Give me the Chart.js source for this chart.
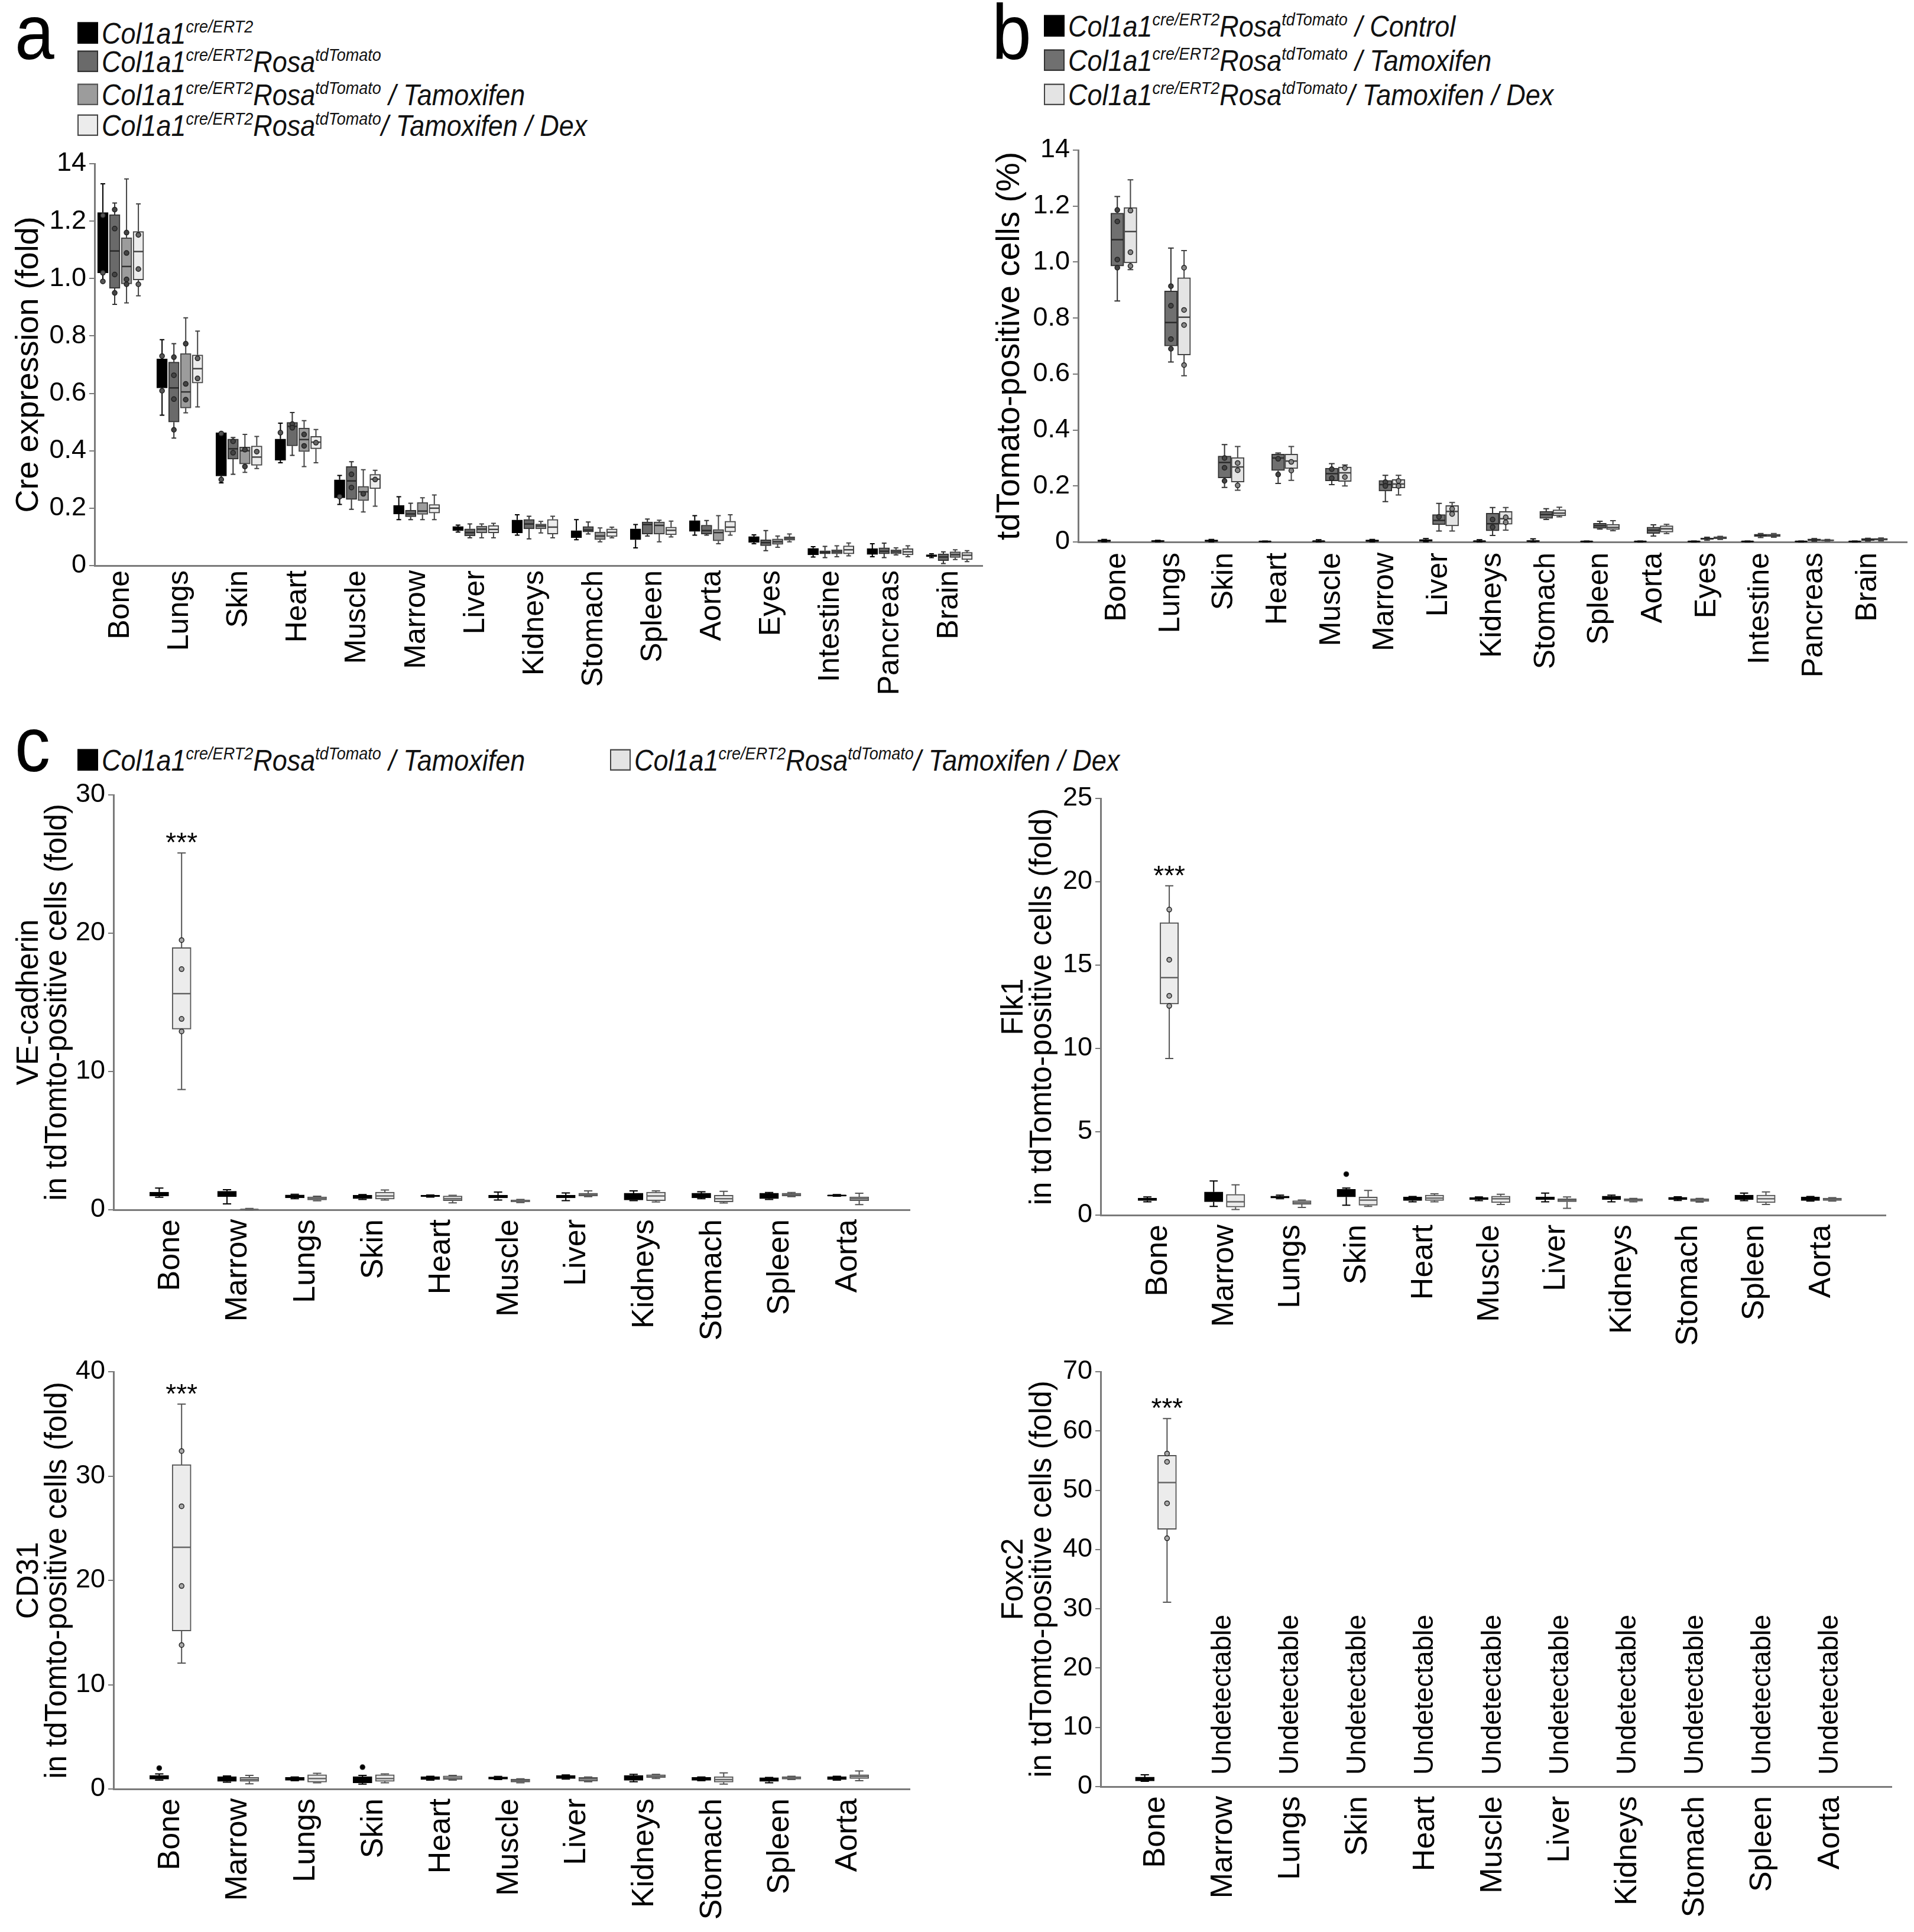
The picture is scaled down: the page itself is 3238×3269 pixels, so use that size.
<!DOCTYPE html>
<html>
<head>
<meta charset="utf-8">
<script src="https://cdn.jsdelivr.net/npm/chart.js@4.4.1/dist/chart.umd.min.js"></script>
<style>
  body { margin: 0; background: #fff; }
  #fig { position: relative; width: 3238px; height: 3269px; background: #fff; overflow: hidden;
         font-family: 'Liberation Sans', Arial, sans-serif; }
  canvas { position: absolute; }
  .letter { position: absolute; font-size: 120px; line-height: 1; color: #000;
            transform: scaleY(1.1); transform-origin: 0 102px; }
  .leg { position: absolute; display: flex; align-items: baseline; font-style: italic;
         font-size: 45px; line-height: 50px; white-space: nowrap; color: #111;
         transform: scaleY(1.1); transform-origin: 0 41px; }
  .leg .sw { display: inline-block; width: 31px; height: 29px; border: 2px solid #333; margin-right: 6px; flex: none; }
  .leg sup { font-size: 0.6em; vertical-align: 0.62em; line-height: 0; }
</style>
</head>
<body>
<div id="fig">
  <div class="letter" style="left:25px;top:-2px">a</div>
  <div class="letter" style="left:1678px;top:-2px">b</div>
  <div class="letter" style="left:25px;top:1203px">c</div>

  <div class="leg" style="left:131px;top:34px"><span class="sw" style="background:#000;border-color:#000"></span><span>Col1a1<sup>cre/ERT2</sup></span></div>
  <div class="leg" style="left:131px;top:82px"><span class="sw" style="background:#6a6a6a"></span><span>Col1a1<sup>cre/ERT2</sup>Rosa<sup>tdTomato</sup></span></div>
  <div class="leg" style="left:131px;top:138px"><span class="sw" style="background:#9c9c9c;border-color:#555"></span><span>Col1a1<sup>cre/ERT2</sup>Rosa<sup>tdTomato</sup> / Tamoxifen</span></div>
  <div class="leg" style="left:131px;top:190px"><span class="sw" style="background:#ececec;border-color:#444"></span><span>Col1a1<sup>cre/ERT2</sup>Rosa<sup>tdTomato</sup>/ Tamoxifen / Dex</span></div>

  <div class="leg" style="left:1766px;top:22px"><span class="sw" style="background:#000;border-color:#000"></span><span>Col1a1<sup>cre/ERT2</sup>Rosa<sup>tdTomato</sup> / Control</span></div>
  <div class="leg" style="left:1766px;top:80px"><span class="sw" style="background:#707070"></span><span>Col1a1<sup>cre/ERT2</sup>Rosa<sup>tdTomato</sup> / Tamoxifen</span></div>
  <div class="leg" style="left:1766px;top:138px"><span class="sw" style="background:#e4e4e4;border-color:#444"></span><span>Col1a1<sup>cre/ERT2</sup>Rosa<sup>tdTomato</sup>/ Tamoxifen / Dex</span></div>

  <div class="leg" style="left:131px;top:1264px"><span class="sw" style="background:#000;border-color:#000"></span><span>Col1a1<sup>cre/ERT2</sup>Rosa<sup>tdTomato</sup> / Tamoxifen</span></div>
  <div class="leg" style="left:1032px;top:1264px"><span class="sw" style="background:#e4e4e4;border-color:#444"></span><span>Col1a1<sup>cre/ERT2</sup>Rosa<sup>tdTomato</sup>/ Tamoxifen / Dex</span></div>

  <canvas id="chartA"></canvas>
  <canvas id="chartB"></canvas>
  <canvas id="chartVE"></canvas>
  <canvas id="chartFlk"></canvas>
  <canvas id="chartCD31"></canvas>
  <canvas id="chartFoxc2"></canvas>
</div>

<script>
'use strict';

// ---- data: every box is [min, q1, median, q3, max] ----
const catsAB = ['Bone', 'Lungs', 'Skin', 'Heart', 'Muscle', 'Marrow', 'Liver', 'Kidneys',
                'Stomach', 'Spleen', 'Aorta', 'Eyes', 'Intestine', 'Pancreas', 'Brain'];
const catsC = ['Bone', 'Marrow', 'Lungs', 'Skin', 'Heart', 'Muscle', 'Liver', 'Kidneys',
               'Stomach', 'Spleen', 'Aorta'];

const ticksA = [0, 0.2, 0.4, 0.6, 0.8, 1.0, 1.2, 1.4];
const tickLabelsA = ['0', '0.2', '0.4', '0.6', '0.8', '1.0', '1.2', '14'];
const ticksVE = [0, 10, 20, 30];
const ticksFlk = [0, 5, 10, 15, 20, 25];
const ticksCD31 = [0, 10, 20, 30, 40];
const ticksFoxc2 = [0, 10, 20, 30, 40, 50, 60, 70];

// panel a : Cre expression (fold)
const aCre = [
  [0.99, 1.02, 1.12, 1.23, 1.33], [0.524, 0.619, 0.66, 0.72, 0.787], [0.288, 0.312, 0.39, 0.463, 0.465],
  [0.358, 0.367, 0.40, 0.441, 0.496], [0.213, 0.236, 0.27, 0.299, 0.314], [0.16, 0.18, 0.195, 0.21, 0.24],
  [0.117, 0.122, 0.13, 0.136, 0.141], [0.106, 0.114, 0.14, 0.159, 0.177], [0.09, 0.097, 0.11, 0.122, 0.16],
  [0.062, 0.09, 0.11, 0.128, 0.143], [0.106, 0.119, 0.14, 0.157, 0.174], [0.076, 0.081, 0.09, 0.101, 0.107],
  [0.03, 0.037, 0.048, 0.06, 0.066], [0.031, 0.039, 0.05, 0.059, 0.076], [0.028, 0.031, 0.034, 0.038, 0.041]];
const aRosa = [
  [0.91, 0.966, 1.096, 1.223, 1.263], [0.444, 0.50, 0.619, 0.709, 0.773], [0.318, 0.371, 0.407, 0.441, 0.446],
  [0.384, 0.417, 0.485, 0.499, 0.533], [0.196, 0.23, 0.295, 0.345, 0.362], [0.16, 0.17, 0.18, 0.193, 0.217],
  [0.097, 0.103, 0.115, 0.128, 0.145], [0.093, 0.128, 0.145, 0.161, 0.172], [0.11, 0.117, 0.124, 0.136, 0.152],
  [0.103, 0.11, 0.143, 0.152, 0.162], [0.106, 0.11, 0.122, 0.141, 0.157], [0.052, 0.069, 0.08, 0.09, 0.122],
  [0.028, 0.041, 0.046, 0.052, 0.067], [0.028, 0.041, 0.05, 0.062, 0.078], [0.007, 0.017, 0.03, 0.041, 0.048]];
const aTam = [
  [0.915, 0.981, 1.042, 1.142, 1.347], [0.532, 0.549, 0.605, 0.739, 0.863], [0.325, 0.354, 0.40, 0.413, 0.457],
  [0.345, 0.397, 0.439, 0.479, 0.505], [0.187, 0.226, 0.257, 0.276, 0.334], [0.16, 0.178, 0.19, 0.22, 0.236],
  [0.097, 0.114, 0.127, 0.138, 0.145], [0.114, 0.128, 0.138, 0.145, 0.154], [0.083, 0.09, 0.103, 0.117, 0.131],
  [0.083, 0.11, 0.14, 0.152, 0.158], [0.076, 0.086, 0.115, 0.126, 0.174], [0.064, 0.074, 0.083, 0.093, 0.103],
  [0.031, 0.041, 0.048, 0.055, 0.069], [0.037, 0.041, 0.048, 0.055, 0.062], [0.021, 0.028, 0.038, 0.048, 0.055]];
const aDex = [
  [0.94, 0.995, 1.094, 1.164, 1.26], [0.553, 0.636, 0.686, 0.734, 0.817], [0.338, 0.349, 0.378, 0.417, 0.45],
  [0.358, 0.407, 0.43, 0.45, 0.474], [0.207, 0.268, 0.301, 0.318, 0.332], [0.16, 0.183, 0.2, 0.213, 0.246],
  [0.097, 0.114, 0.126, 0.14, 0.147], [0.097, 0.11, 0.134, 0.161, 0.172], [0.097, 0.101, 0.116, 0.128, 0.134],
  [0.1, 0.107, 0.123, 0.134, 0.155], [0.106, 0.117, 0.134, 0.155, 0.177], [0.083, 0.088, 0.094, 0.1, 0.11],
  [0.034, 0.041, 0.055, 0.069, 0.079], [0.031, 0.037, 0.048, 0.059, 0.069], [0.014, 0.021, 0.036, 0.046, 0.052]];
const aCrePts = [[1.22, 1.02, 0.99], [0.73, 0.609], [0.46, 0.30], [0.463], [0.24]];
const aRosaPts = [[1.24, 1.174, 1.014, 0.95], [0.726, 0.663, 0.58, 0.473], [0.433, 0.393], [0.493, 0.48], [0.318, 0.272]];
const aTamPts = [[1.16, 1.089, 0.997, 0.98], [0.773, 0.633, 0.578], [0.404, 0.345], [0.457, 0.417], [0.25]];
const aDexPts = [[1.152, 1.033, 0.98], [0.722, 0.652], [0.397], [0.428], [0.30]];

// panel b : tdTomato-positive cells (%)
const bControl = [
  [0.001, 0.002, 0.004, 0.007, 0.009], [0.001, 0.002, 0.003, 0.005, 0.006], [0.001, 0.002, 0.004, 0.007, 0.009],
  [0.001, 0.001, 0.002, 0.003, 0.003], [0.001, 0.002, 0.003, 0.004, 0.008], [0.001, 0.002, 0.004, 0.007, 0.009],
  [0.001, 0.003, 0.006, 0.009, 0.012], [0.001, 0.002, 0.003, 0.004, 0.008], [0.001, 0.002, 0.003, 0.005, 0.011],
  [0.001, 0.001, 0.002, 0.003, 0.003], [0.001, 0.001, 0.002, 0.003, 0.003], [0.001, 0.001, 0.002, 0.003, 0.003],
  [0.001, 0.001, 0.002, 0.003, 0.003], [0.001, 0.001, 0.002, 0.003, 0.003], [0.001, 0.001, 0.002, 0.003, 0.003]];
const bTam = [
  [0.861, 0.986, 1.08, 1.175, 1.234], [0.643, 0.70, 0.784, 0.897, 1.05], [0.195, 0.229, 0.284, 0.307, 0.348],
  [0.209, 0.255, 0.30, 0.314, 0.318], [0.205, 0.218, 0.244, 0.264, 0.28], [0.144, 0.182, 0.205, 0.22, 0.238],
  [0.039, 0.062, 0.077, 0.098, 0.138], [0.023, 0.04, 0.065, 0.103, 0.123], [0.08, 0.084, 0.098, 0.109, 0.119],
  [0.046, 0.049, 0.058, 0.067, 0.074], [0.021, 0.03, 0.042, 0.053, 0.061], [0.006, 0.009, 0.011, 0.014, 0.017],
  [0.016, 0.019, 0.023, 0.028, 0.03], [0.002, 0.004, 0.007, 0.011, 0.012], [0.003, 0.005, 0.008, 0.012, 0.013]];
const bDex = [
  [0.973, 0.997, 1.109, 1.195, 1.294], [0.594, 0.668, 0.803, 0.944, 1.041], [0.185, 0.214, 0.268, 0.302, 0.341],
  [0.22, 0.262, 0.289, 0.314, 0.341], [0.20, 0.216, 0.247, 0.268, 0.275], [0.168, 0.193, 0.207, 0.223, 0.238],
  [0.039, 0.057, 0.109, 0.13, 0.141], [0.042, 0.063, 0.083, 0.109, 0.123], [0.09, 0.093, 0.103, 0.115, 0.124],
  [0.04, 0.044, 0.052, 0.063, 0.076], [0.03, 0.035, 0.047, 0.058, 0.063], [0.009, 0.011, 0.015, 0.019, 0.02],
  [0.017, 0.019, 0.023, 0.028, 0.03], [0.003, 0.004, 0.006, 0.008, 0.009], [0.004, 0.006, 0.009, 0.013, 0.014]];
const bTamPts = [[1.186, 1.145, 1.009, 0.98], [0.914, 0.844, 0.725, 0.69], [0.3, 0.265, 0.218], [0.297, 0.241],
                 [0.26, 0.228], [0.214, 0.2], [0.09], [0.08, 0.053]];
const bDexPts = [[1.184, 1.035, 0.986], [0.98, 0.829, 0.775, 0.632], [0.282, 0.256, 0.202], [0.286, 0.255],
                 [0.264, 0.232], [0.218, 0.2], [0.118, 0.1], [0.088, 0.07]];

// panel c : fold change in tdTomato-positive cells (Tamoxifen vs Tamoxifen / Dex)
const veTam = [
  [0.91, 1.0, 1.1, 1.28, 1.57], [0.43, 0.94, 1.1, 1.34, 1.45], [0.8, 0.86, 0.95, 1.08, 1.12], [0.75, 0.8, 0.9, 1.05, 1.1],
  [0.92, 0.94, 1.0, 1.05, 1.07], [0.71, 0.86, 0.95, 1.05, 1.28], [0.66, 0.86, 0.95, 1.05, 1.22], [0.66, 0.71, 0.95, 1.2, 1.37],
  [0.8, 0.86, 1.0, 1.2, 1.3], [0.75, 0.8, 1.0, 1.2, 1.25], [0.98, 1.0, 1.03, 1.08, 1.1]];
const veDex = [
  [8.7, 13.06, 15.63, 18.96, 25.8], [0, 0.01, 0.03, 0.05, 0.1], [0.65, 0.71, 0.8, 0.94, 0.98], [0.7, 0.77, 1.0, 1.28, 1.43],
  [0.5, 0.66, 0.8, 1.0, 1.05], [0.52, 0.57, 0.62, 0.71, 0.75], [0.95, 1.0, 1.1, 1.2, 1.37], [0.57, 0.66, 1.0, 1.28, 1.37],
  [0.49, 0.57, 0.8, 1.05, 1.34], [0.95, 1.0, 1.1, 1.2, 1.25], [0.37, 0.66, 0.8, 0.94, 1.2]];
const veDexPts = [[19.5, 17.4, 13.8, 12.9]];

const flkTam = [
  [0.8, 0.87, 0.95, 1.02, 1.09], [0.52, 0.8, 1.1, 1.39, 2.05], [0.98, 1.02, 1.08, 1.14, 1.2], [0.59, 1.09, 1.3, 1.55, 1.62],
  [0.8, 0.87, 0.98, 1.09, 1.12], [0.87, 0.93, 0.98, 1.05, 1.09], [0.8, 0.93, 1.0, 1.09, 1.32], [0.8, 0.93, 1.05, 1.14, 1.2],
  [0.88, 0.93, 1.0, 1.07, 1.1], [0.87, 0.93, 1.05, 1.2, 1.32], [0.84, 0.87, 0.98, 1.09, 1.12]];
const flkDex = [
  [9.4, 12.66, 14.25, 17.55, 19.76], [0.34, 0.48, 0.8, 1.25, 1.82], [0.46, 0.64, 0.75, 0.87, 0.9], [0.52, 0.59, 0.9, 1.09, 1.48],
  [0.8, 0.87, 1.02, 1.2, 1.28], [0.64, 0.75, 0.98, 1.14, 1.25], [0.41, 0.8, 0.9, 0.98, 1.09], [0.8, 0.84, 0.9, 0.98, 1.0],
  [0.78, 0.82, 0.9, 0.98, 1.0], [0.64, 0.75, 0.98, 1.2, 1.39], [0.84, 0.87, 0.95, 1.02, 1.05]];
const flkTamPts = [[], [], [], [2.46]];
const flkDexPts = [[18.33, 15.32, 13.16, 12.55]];

const cd31Tam = [
  [0.85, 0.94, 1.1, 1.3, 1.45], [0.65, 0.72, 0.95, 1.19, 1.25], [0.8, 0.83, 0.95, 1.12, 1.15], [0.47, 0.58, 0.85, 1.19, 1.3],
  [0.85, 0.9, 1.05, 1.19, 1.22], [0.9, 0.94, 1.05, 1.15, 1.2], [0.95, 1.0, 1.15, 1.3, 1.35], [0.7, 0.83, 1.05, 1.3, 1.4],
  [0.8, 0.83, 0.95, 1.12, 1.15], [0.6, 0.72, 0.9, 1.08, 1.1], [0.85, 0.9, 1.05, 1.19, 1.22]];
const cd31Dex = [
  [12.07, 15.14, 23.17, 31.1, 36.9], [0.5, 0.72, 0.9, 1.12, 1.3], [0.6, 0.65, 1.0, 1.37, 1.5], [0.6, 0.72, 1.0, 1.37, 1.45],
  [0.85, 0.9, 1.05, 1.26, 1.3], [0.6, 0.65, 0.8, 0.94, 0.98], [0.7, 0.76, 0.95, 1.12, 1.15], [1.0, 1.08, 1.2, 1.37, 1.4],
  [0.47, 0.65, 0.9, 1.19, 1.55], [0.9, 0.94, 1.05, 1.19, 1.22], [0.8, 1.0, 1.2, 1.37, 1.73]];
const cd31TamPts = [[2.0], [], [], [2.09]];
const cd31DexPts = [[32.4, 27.1, 19.46, 13.8]];

const foxTam = [[0.9, 0.95, 1.2, 1.6, 2.0], null, null, null, null, null, null, null, null, null, null];
const foxDex = [[31.1, 43.4, 51.3, 55.9, 62.1], null, null, null, null, null, null, null, null, null, null];
const foxDexPts = [[56.2, 54.8, 47.8, 41.9]];

const starCats = ['Bone'];

// ---- drawing ----
const FONT = "'Liberation Sans', Arial, sans-serif";
const NARROW = "'Liberation Sans Narrow', 'Liberation Sans', Arial, sans-serif";
const AXIS = '#7a7a7a';

function boxChart(p) {
  const plotW = p.w - p.yAxisW - p.padRight;
  const thick = plotW / (p.xMax - p.xMin) * p.boxW;
  const canvas = document.getElementById(p.id);
  canvas.width = p.w;
  canvas.height = p.h;
  canvas.style.left = p.left + 'px';
  canvas.style.top = p.top + 'px';

  const datasets = p.series.map(s => ({
    data: s.boxes.map((b, i) => b ? { x: i + s.off, y: [b[1], b[3]] } : null).filter(d => d),
    backgroundColor: s.fill,
    borderColor: s.edge,
    borderWidth: 2,
    borderSkipped: false,
    barThickness: thick,
    grouped: false
  }));

  const boxes = {
    id: 'boxes',
    beforeDatasetsDraw(chart) {
      const { ctx, scales: { x, y } } = chart;
      const cap = thick * 0.22;
      ctx.save();
      ctx.lineWidth = 2;
      p.series.forEach(s => s.boxes.forEach((b, i) => {
        if (!b) return;
        const cx = x.getPixelForValue(i + s.off);
        ctx.strokeStyle = s.whisker;
        ctx.beginPath();
        ctx.moveTo(cx, y.getPixelForValue(b[3])); ctx.lineTo(cx, y.getPixelForValue(b[4]));
        ctx.moveTo(cx - cap, y.getPixelForValue(b[4])); ctx.lineTo(cx + cap, y.getPixelForValue(b[4]));
        ctx.moveTo(cx, y.getPixelForValue(b[1])); ctx.lineTo(cx, y.getPixelForValue(b[0]));
        ctx.moveTo(cx - cap, y.getPixelForValue(b[0])); ctx.lineTo(cx + cap, y.getPixelForValue(b[0]));
        ctx.stroke();
      }));
      ctx.restore();
    },
    afterDatasetsDraw(chart) {
      const { ctx, scales: { x, y } } = chart;
      const hw = thick / 2;
      ctx.save();
      p.series.forEach(s => s.boxes.forEach((b, i) => {
        if (!b) return;
        const cx = x.getPixelForValue(i + s.off);
        ctx.strokeStyle = s.median;
        ctx.lineWidth = 2.5;
        ctx.beginPath();
        ctx.moveTo(cx - hw + 1, y.getPixelForValue(b[2]));
        ctx.lineTo(cx + hw - 1, y.getPixelForValue(b[2]));
        ctx.stroke();
        const pts = (s.points && s.points[i]) || [];
        pts.forEach(v => {
          ctx.beginPath();
          ctx.arc(cx, y.getPixelForValue(v), 4, 0, Math.PI * 2);
          ctx.fillStyle = s.dot;
          ctx.fill();
          ctx.lineWidth = 1.5;
          ctx.strokeStyle = '#222';
          ctx.stroke();
        });
      }));
      if (p.stars) {
        const s = p.series[p.series.length - 1];
        ctx.fillStyle = '#000';
        ctx.font = '46px ' + FONT;
        ctx.textAlign = 'center';
        ctx.textBaseline = 'alphabetic';
        starCats.forEach(c => {
          const i = p.cats.indexOf(c);
          ctx.fillText('***', x.getPixelForValue(i + s.off), y.getPixelForValue(s.boxes[i][4]) - 2);
        });
      }
      if (p.undetectable) {
        const s = p.series[p.series.length - 1];
        ctx.fillStyle = '#000';
        ctx.font = '46px ' + FONT;
        ctx.textAlign = 'left';
        ctx.textBaseline = 'middle';
        s.boxes.forEach((b, i) => {
          if (b) return;
          ctx.save();
          ctx.translate(x.getPixelForValue(i), y.getPixelForValue(0) - 20);
          ctx.rotate(-Math.PI / 2);
          ctx.fillText('Undetectable', 0, 0);
          ctx.restore();
        });
      }
      ctx.restore();
    }
  };

  return new Chart(canvas, {
    type: 'bar',
    data: { datasets },
    options: {
      responsive: false,
      animation: false,
      devicePixelRatio: 1,
      layout: { padding: { top: p.padTop, right: p.padRight, left: 0, bottom: 0 } },
      plugins: { legend: { display: false }, tooltip: { enabled: false } },
      scales: {
        x: {
          type: 'linear', min: p.xMin, max: p.xMax, offset: false,
          afterBuildTicks: s => { s.ticks = p.cats.map((c, i) => ({ value: i })); },
          afterFit: s => { s.height = p.xAxisH; },
          ticks: {
            callback: v => p.cats[v], autoSkip: false, minRotation: 90, maxRotation: 90,
            color: '#000', padding: p.xPad, font: { family: FONT, size: p.xFont }
          },
          grid: { drawOnChartArea: false, drawTicks: false, offset: false },
          border: { color: AXIS, width: 3 }
        },
        y: {
          min: 0, max: p.yTicks[p.yTicks.length - 1],
          afterBuildTicks: s => { s.ticks = p.yTicks.map(v => ({ value: v })); },
          afterFit: s => { s.width = p.yAxisW; },
          ticks: {
            callback: (v, i) => p.yLabels[i], color: '#000', padding: 5,
            font: { family: NARROW, size: p.yFont }
          },
          grid: { drawOnChartArea: false, tickLength: 9, color: AXIS, lineWidth: 2 },
          border: { color: AXIS, width: 3 },
          title: {
            display: true, text: p.title, color: '#000',
            font: { family: FONT, size: p.titleFont, lineHeight: p.titleLH },
            padding: { top: p.titlePad, bottom: 0 }
          }
        }
      }
    },
    plugins: [boxes]
  });
}

const labelsOf = arr => arr.map(v => String(v));

// panel a
boxChart({
  id: 'chartA', left: 0, top: 200, w: 1690, h: 1050,
  yAxisW: 160, padTop: 77, padRight: 28, xAxisH: 293,
  xMin: -0.44, xMax: 14.56, boxW: 0.18, cats: catsAB,
  yTicks: ticksA, yLabels: tickLabelsA, yFont: 45, xFont: 50, xPad: 8,
  title: 'Cre expression (fold)', titleFont: 54, titleLH: 1.2, titlePad: 17,
  series: [
    { boxes: aCre, points: aCrePts, off: -0.3, fill: '#000', edge: '#000', whisker: '#000', median: '#000', dot: '#555' },
    { boxes: aRosa, points: aRosaPts, off: -0.1, fill: '#6a6a6a', edge: '#333', whisker: '#333', median: '#2a2a2a', dot: '#444' },
    { boxes: aTam, points: aTamPts, off: 0.1, fill: '#9c9c9c', edge: '#444', whisker: '#444', median: '#333', dot: '#444' },
    { boxes: aDex, points: aDexPts, off: 0.3, fill: '#ececec', edge: '#444', whisker: '#444', median: '#444', dot: '#666' }
  ]
});

// panel b
boxChart({
  id: 'chartB', left: 1665, top: 180, w: 1573, h: 1050,
  yAxisW: 159, padTop: 74, padRight: 0, xAxisH: 313,
  xMin: -0.73, xMax: 14.73, boxW: 0.24, cats: catsAB,
  yTicks: ticksA, yLabels: tickLabelsA, yFont: 45, xFont: 50, xPad: 18,
  title: 'tdTomato-positive cells (%)', titleFont: 55, titleLH: 1.2, titlePad: 11,
  series: [
    { boxes: bControl, off: -0.245, fill: '#000', edge: '#000', whisker: '#000', median: '#000', dot: '#555' },
    { boxes: bTam, points: bTamPts, off: 0, fill: '#707070', edge: '#333', whisker: '#333', median: '#2a2a2a', dot: '#444' },
    { boxes: bDex, points: bDexPts, off: 0.245, fill: '#e4e4e4', edge: '#444', whisker: '#444', median: '#444', dot: '#888' }
  ]
});

function cSeries(tam, dex, tamPts, dexPts) {
  return [
    { boxes: tam, points: tamPts, off: -0.165, fill: '#000', edge: '#000', whisker: '#000', median: '#000', dot: '#000' },
    { boxes: dex, points: dexPts, off: 0.165, fill: '#ececec', edge: '#555', whisker: '#555', median: '#666', dot: '#aaa' }
  ];
}

boxChart({
  id: 'chartVE', left: 0, top: 1300, w: 1600, h: 985,
  yAxisW: 192, padTop: 45, padRight: 61, xAxisH: 238,
  xMin: -0.84, xMax: 10.91, boxW: 0.28, cats: catsC,
  yTicks: ticksVE, yLabels: labelsOf(ticksVE), yFont: 45, xFont: 52, xPad: 16,
  title: ['VE-cadherin', 'in tdTomto-positive cells (fold)'], titleFont: 51, titleLH: 0.94, titlePad: 26,
  stars: true, series: cSeries(veTam, veDex, [], veDexPts)
});

boxChart({
  id: 'chartFlk', left: 1660, top: 1300, w: 1578, h: 985,
  yAxisW: 202, padTop: 51, padRight: 48, xAxisH: 229,
  xMin: -0.87, xMax: 10.97, boxW: 0.28, cats: catsC,
  yTicks: ticksFlk, yLabels: labelsOf(ticksFlk), yFont: 45, xFont: 52, xPad: 16,
  title: ['Flk1', 'in tdTomto-positive cells (fold)'], titleFont: 51, titleLH: 0.94, titlePad: 32,
  stars: true, series: cSeries(flkTam, flkDex, flkTamPts, flkDexPts)
});

boxChart({
  id: 'chartCD31', left: 0, top: 2285, w: 1600, h: 984,
  yAxisW: 192, padTop: 36, padRight: 61, xAxisH: 242,
  xMin: -0.84, xMax: 10.91, boxW: 0.28, cats: catsC,
  yTicks: ticksCD31, yLabels: labelsOf(ticksCD31), yFont: 45, xFont: 52, xPad: 16,
  title: ['CD31', 'in tdTomto-positive cells (fold)'], titleFont: 51, titleLH: 0.94, titlePad: 26,
  stars: true, series: cSeries(cd31Tam, cd31Dex, cd31TamPts, cd31DexPts)
});

boxChart({
  id: 'chartFoxc2', left: 1660, top: 2285, w: 1578, h: 984,
  yAxisW: 202, padTop: 36, padRight: 38, xAxisH: 246,
  xMin: -0.82, xMax: 10.91, boxW: 0.28, cats: catsC,
  yTicks: ticksFoxc2, yLabels: labelsOf(ticksFoxc2), yFont: 45, xFont: 52, xPad: 16,
  title: ['Foxc2', 'in tdTomto-positive cells (fold)'], titleFont: 51, titleLH: 0.94, titlePad: 32,
  stars: true, undetectable: true, series: cSeries(foxTam, foxDex, [], foxDexPts)
});
</script>
</body>
</html>
